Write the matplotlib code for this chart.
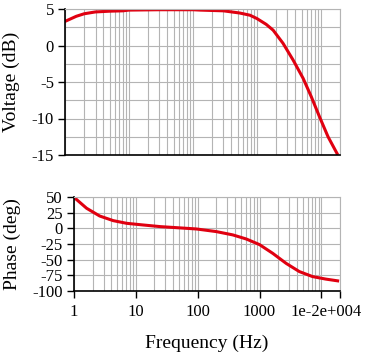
import matplotlib
matplotlib.use("Agg")
import matplotlib.pyplot as plt
from matplotlib.ticker import LogLocator, MultipleLocator, NullFormatter
from matplotlib.transforms import ScaledTranslation

# frequency response
freq_gain = [1, 1.5, 2, 3, 5, 8, 10, 30, 100, 130, 300, 540, 780, 1000, 1400, 1800,
             2570, 3700, 5300, 7100, 9600, 13000, 18000]
gain_db = [3.3, 4.0, 4.35, 4.6, 4.7, 4.75, 4.85, 4.9, 4.9, 4.85, 4.75, 4.45, 4.15, 3.7,
           2.9, 2.1, 0.3, -2.0, -4.5, -7.0, -9.8, -12.5, -14.8]

freq_phase = [1, 1.6, 2.6, 4.3, 7.1, 13, 25, 45, 95, 200, 370, 610, 1000, 1640,
              2700, 4400, 7200, 11800, 18300]
phase_deg = [49.5, 32, 19.7, 12.3, 8, 5.4, 2.7, 1.1, -1, -5.2, -10.5, -17, -26, -40,
             -56, -69, -77, -81, -83.8]

x_ticks = [1, 10, 100, 1000, 1e4, 2e4]
x_labels = ["1", "10", "100", "1000", "1e-2e+004", ""]

plt.rcParams['font.family'] = ['Liberation Serif', 'DejaVu Serif']
plt.rcParams['axes.unicode_minus'] = False

fig = plt.figure(figsize=(3.69, 3.54), dpi=100)
ax1 = fig.add_axes([65/369, 1-155/354, 275/369, 146/354])
ax2 = fig.add_axes([74/369, 1-291/354, 266/369, 94/354])

red = "#e00010"
grid_col = "#b4b4b4"

for ax in (ax1, ax2):
    ax.set_xscale("log")
    ax.set_xlim(1, 2e4)
    ax.xaxis.set_minor_locator(LogLocator(base=10, subs=range(2, 10), numticks=20))
    ax.xaxis.set_minor_formatter(NullFormatter())
    ax.grid(True, which="both", color=grid_col, linewidth=0.8)
    ax.set_axisbelow(True)
    for s in ("top", "right"):
        ax.spines[s].set_color(grid_col)
        ax.spines[s].set_linewidth(0.8)
    ax.spines["left"].set_linewidth(1.2)
    ax.spines["bottom"].set_linewidth(1.2)
    ax.tick_params(which="minor", length=0)
    ax.tick_params(axis="y", which="major", length=5, width=1, labelsize=12, pad=3)

ax1.plot(freq_gain, gain_db, color=red, linewidth=2.2)
ax1.set_ylim(-15, 5)
ax1.yaxis.set_major_locator(MultipleLocator(5))
ax1.yaxis.set_minor_locator(MultipleLocator(2.5))
ax1.set_xticks(x_ticks)
ax1.set_xticklabels([])
ax1.tick_params(axis="x", which="major", length=0)

ax2.plot(freq_phase, phase_deg, color=red, linewidth=2.2)
ax2.set_ylim(-100, 50)
ax2.yaxis.set_major_locator(MultipleLocator(25))
ax2.set_xticks(x_ticks)
ax2.set_xticklabels(x_labels)
ax2.tick_params(axis="x", which="major", length=5, width=1, labelsize=12, pad=4)
lbl = ax2.get_xticklabels()[4]
lbl.set_transform(lbl.get_transform() + ScaledTranslation(5/100, 0, fig.dpi_scale_trans))

fig.text(11/369, 1-82/354, "Voltage (dB)", rotation=90, ha="center", va="center", fontsize=14)
fig.text(12/369, 1-244/354, "Phase (deg)", rotation=90, ha="center", va="center", fontsize=14)
fig.text(207/369, 1-343/354, "Frequency (Hz)", ha="center", va="center", fontsize=14)

fig.savefig("out.png", dpi=100)
